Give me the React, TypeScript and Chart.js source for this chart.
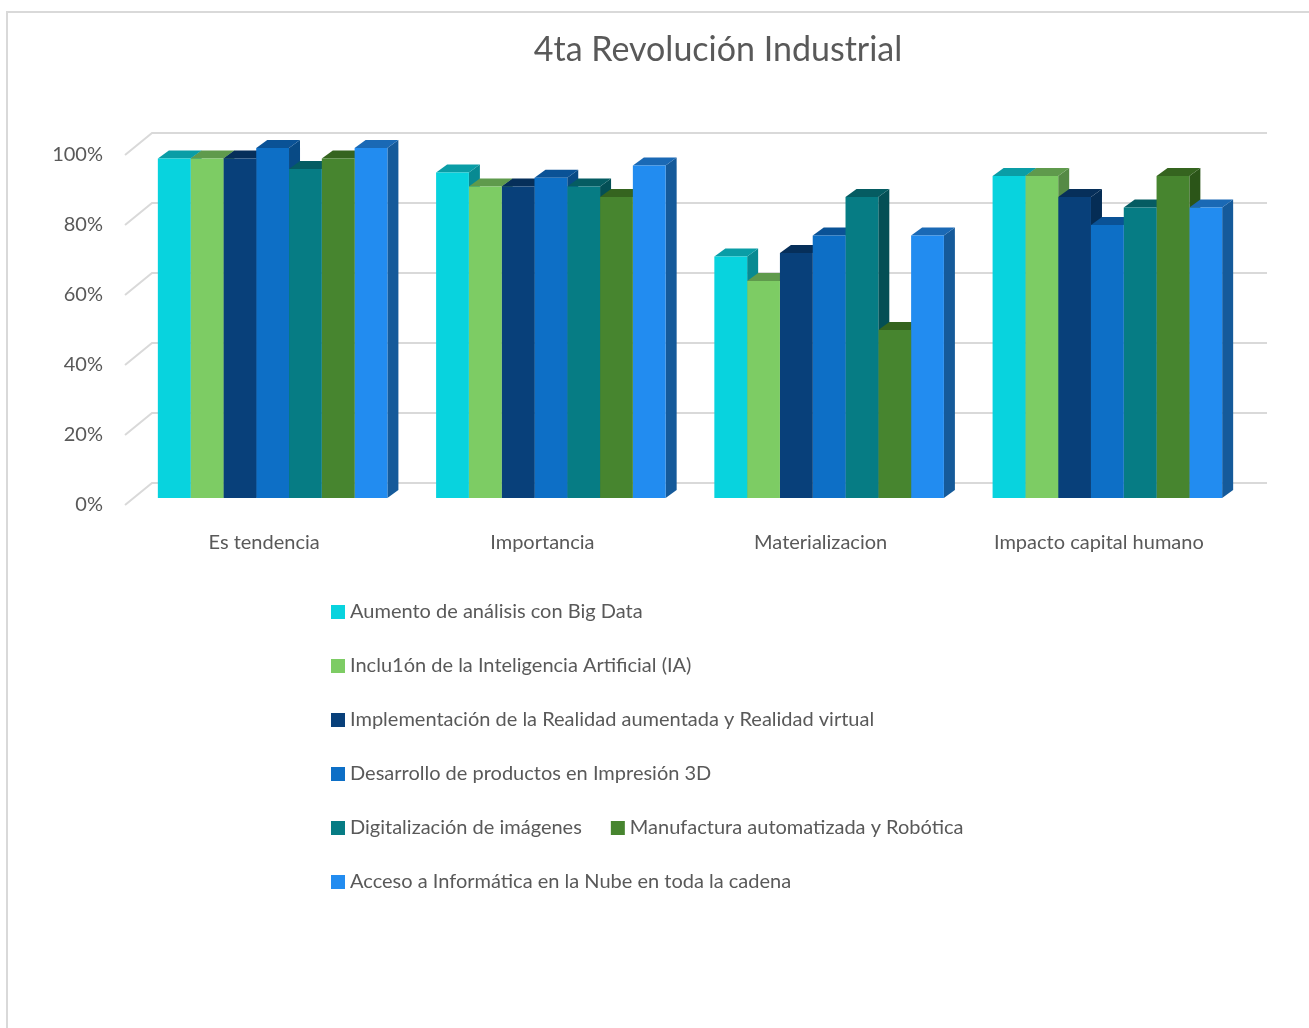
import React, { useEffect, useRef } from "react";
import { Chart, registerables } from "chart.js";

Chart.register(...registerables);

const categories = ["Es tendencia", "Importancia", "Materializacion", "Impacto capital humano"];
const seriesNames = [
  "Aumento de análisis con Big Data",
  "Inclu1ón de la Inteligencia Artificial (IA)",
  "Implementación de la Realidad aumentada y Realidad virtual",
  "Desarrollo de productos en Impresión 3D",
  "Digitalización de imágenes",
  "Manufactura automatizada y Robótica",
  "Acceso a Informática en la Nube en toda la cadena",
];
const bigData = [97, 93, 69, 92];
const inteligencia = [97, 89, 62, 92];
const realidad = [97, 89, 70, 86];
const impresion = [100, 91.5, 75, 78];
const imagenes = [94, 89, 86, 83];
const robotica = [97, 86, 48, 92];
const nube = [100, 95, 75, 83];
const seriesValues = [bigData, inteligencia, realidad, impresion, imagenes, robotica, nube];

const frontColors = ["#08D3DE", "#7DCC64", "#08407A", "#0D6FC6", "#067C84", "#47852F", "#228CF0"];
const topColors = ["#0A9DA6", "#5F9A4C", "#062F5A", "#0A5296", "#055C62", "#35641F", "#1A69B5"];
const sideColors = ["#088A92", "#558A45", "#052D55", "#084A85", "#044F55", "#2B5518", "#155A9A"];

const FONT = "Lato";
const TEXT = "#595959";
const GRID = "#D9D9D9";

const BAR_SHIFT_X = 8.5;
const BAR_SHIFT_Y = -7;
const DEPTH_X = 11;
const DEPTH_Y = 8;
const WALL_X = 27;
const WALL_Y = 22;
const WALL_RIGHT = 1267;

const scene3d = {
  id: "scene3d",
  afterInit(chart: any) {
    const legend = chart.legend;
    if (legend) {
      const fit = legend.fit;
      legend.fit = function () {
        this.maxWidth = 700;
        fit.call(this);
      };
    }
  },
  afterLayout(chart: any) {
    const legend = chart.legend;
    const h = legend.height;
    legend.left = 302;
    legend.right = 1002;
    legend.top = 568;
    legend.bottom = 568 + h;
    const title = chart.titleBlock;
    title.left = 718 - 300;
    title.right = 718 + 300;
  },
  beforeDatasetsDraw(chart: any) {
    const { ctx, scales, chartArea } = chart;
    ctx.save();
    ctx.strokeStyle = GRID;
    ctx.lineWidth = 2;
    scales.y.ticks.forEach((t: any) => {
      const py = scales.y.getPixelForValue(t.value);
      ctx.beginPath();
      ctx.moveTo(chartArea.left, py);
      ctx.lineTo(chartArea.left + WALL_X, py - WALL_Y);
      ctx.lineTo(WALL_RIGHT, py - WALL_Y);
      ctx.stroke();
    });
    ctx.restore();

    ctx.save();
    ctx.translate(BAR_SHIFT_X, BAR_SHIFT_Y);
    const count = chart.data.labels.length;
    for (let g = 0; g < count; g++) {
      chart.data.datasets.forEach((_: any, i: number) => {
        const bar = chart.getDatasetMeta(i).data[g];
        const { x, y, width, base } = bar.getProps(["x", "y", "width", "base"], true);
        const l = x - width / 2;
        const r = x + width / 2;
        ctx.fillStyle = sideColors[i];
        ctx.beginPath();
        ctx.moveTo(r, y);
        ctx.lineTo(r + DEPTH_X, y - DEPTH_Y);
        ctx.lineTo(r + DEPTH_X, base - DEPTH_Y);
        ctx.lineTo(r, base);
        ctx.closePath();
        ctx.fill();
        ctx.fillStyle = topColors[i];
        ctx.beginPath();
        ctx.moveTo(l, y);
        ctx.lineTo(l + DEPTH_X, y - DEPTH_Y);
        ctx.lineTo(r + DEPTH_X, y - DEPTH_Y);
        ctx.lineTo(r, y);
        ctx.closePath();
        ctx.fill();
      });
    }
  },
  afterDatasetsDraw(chart: any) {
    chart.ctx.restore();
  },
};

export default function App() {
  const ref = useRef<HTMLCanvasElement | null>(null);
  useEffect(() => {
    const chart = new Chart(ref.current as HTMLCanvasElement, {
      type: "bar",
      plugins: [scene3d],
      data: {
        labels: categories,
        datasets: seriesNames.map((name, i) => ({
          label: name,
          data: seriesValues[i],
          backgroundColor: frontColors[i],
          borderWidth: 0,
          barPercentage: 1,
          categoryPercentage: 0.825,
          clip: false as any,
        })),
      },
      options: {
        responsive: false,
        animation: false,
        layout: { padding: { right: 71 } },
        plugins: {
          tooltip: { enabled: false },
          title: {
            display: true,
            text: "4ta Revolución Industrial",
            color: TEXT,
            font: { family: FONT, size: 34, weight: "normal", lineHeight: 1.2 },
            padding: { top: 30, bottom: 84.2 },
          },
          legend: {
            position: "bottom",
            align: "start",
            labels: {
              color: TEXT,
              font: { family: FONT, size: 20 },
              boxWidth: 4,
              boxHeight: 4,
              padding: 34,
              generateLabels(chart: any) {
                return Chart.defaults.plugins.legend.labels.generateLabels(chart).map((item: any, i: number) => ({
                  ...item,
                  fillStyle: frontColors[i],
                  strokeStyle: frontColors[i],
                  lineWidth: 10,
                }));
              },
            },
          },
        },
        scales: {
          x: {
            grid: { display: false },
            border: { display: false },
            ticks: { color: TEXT, font: { family: FONT, size: 20 }, padding: 18, maxRotation: 0 },
            afterFit(s: any) {
              s.height = 1028 - 505 - s.chart.legend.height;
            },
          },
          y: {
            min: 0,
            max: 100,
            grid: { display: false, drawTicks: false },
            border: { display: false },
            ticks: {
              stepSize: 20,
              color: TEXT,
              font: { family: FONT, size: 20 },
              padding: 22,
              callback: (v: any) => `${v}%`,
            },
            afterFit(s: any) {
              s.width = 125;
            },
          },
        },
      },
    });
    return () => chart.destroy();
  }, []);
  return (
    <div style={{ position: "absolute", left: 0, top: 0, width: 1309, height: 1028, overflow: "hidden", background: "#fff" }}>
      <div
        style={{
          position: "absolute",
          left: 6,
          top: 11,
          width: 1303,
          height: 1017,
          boxSizing: "border-box",
          borderLeft: "2px solid #D9D9D9",
          borderTop: "2px solid #D9D9D9",
        }}
      />
      <canvas ref={ref} width={1309} height={1028} style={{ position: "absolute", left: 0, top: 0, display: "block" }} />
    </div>
  );
}
